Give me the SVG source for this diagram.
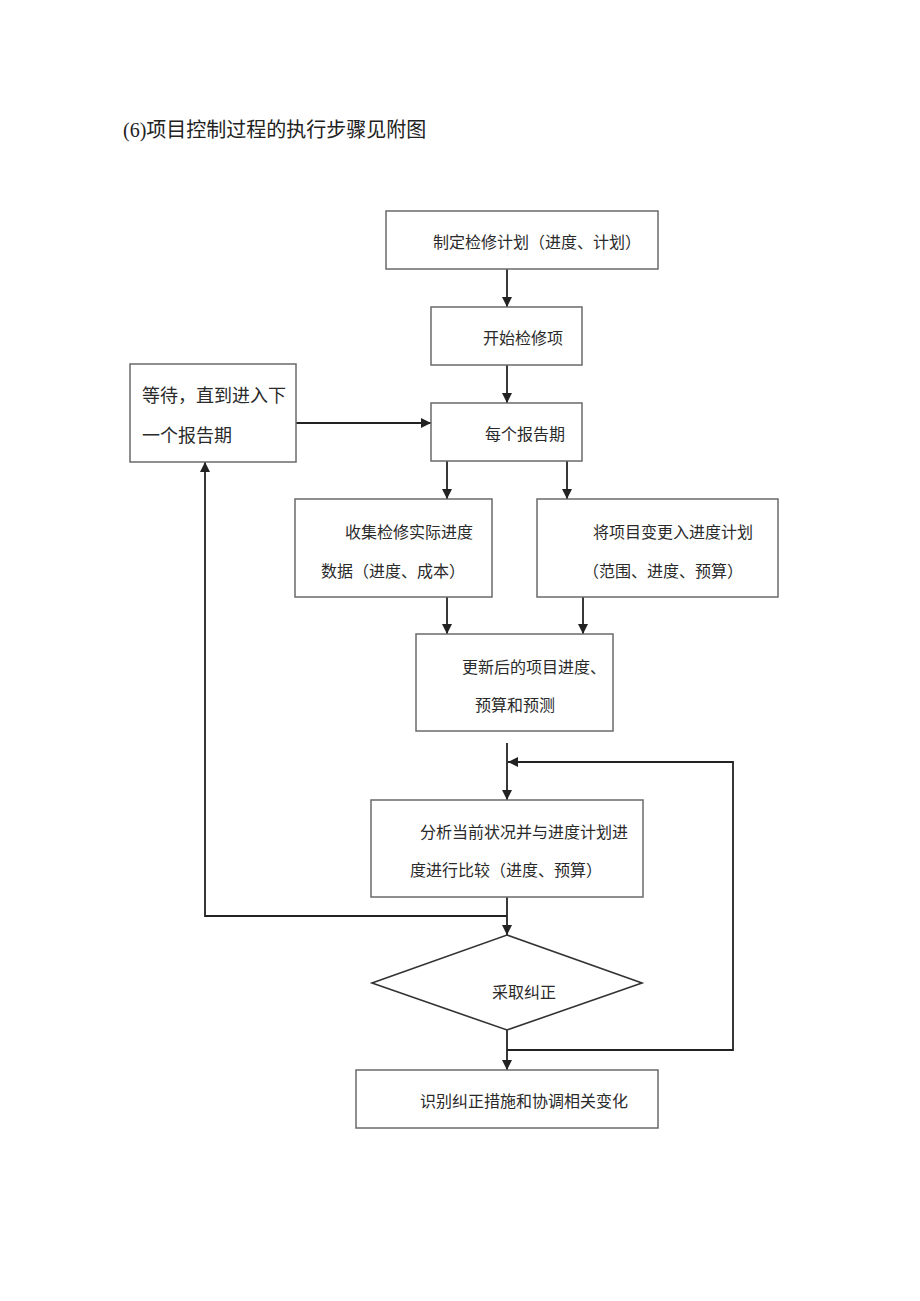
<svg xmlns="http://www.w3.org/2000/svg" width="920" height="1301" viewBox="0 0 920 1301">
<style>
.box{fill:#fff;stroke:#6a6a6a;stroke-width:1.5}
.t{font-family:"Noto Sans CJK SC","Liberation Serif",serif;font-size:16px;fill:#2a2a2a}
.c{fill:none;stroke:#222;stroke-width:1.8}
</style>
<defs>
<marker id="ah" markerUnits="userSpaceOnUse" markerWidth="10" markerHeight="10" viewBox="0 0 10 10" refX="10" refY="5" orient="auto">
<path d="M0,0 L10,5 L0,10 z" fill="#222"/>
</marker>
</defs>
<rect width="920" height="1301" fill="#fff"/>
<text x="123" y="137" style="font-family:'Liberation Serif','Noto Sans CJK SC',serif;font-size:20px;fill:#222">(6)项目控制过程的执行步骤见附图</text>

<g id="connectors">
<line class="c" x1="507" y1="269" x2="507" y2="307" marker-end="url(#ah)"/>
<line class="c" x1="507" y1="365" x2="507" y2="403" marker-end="url(#ah)"/>
<line class="c" x1="296" y1="423" x2="431" y2="423" marker-end="url(#ah)"/>
<line class="c" x1="447" y1="461" x2="447" y2="499" marker-end="url(#ah)"/>
<line class="c" x1="567" y1="461" x2="567" y2="499" marker-end="url(#ah)"/>
<line class="c" x1="447" y1="597" x2="447" y2="634" marker-end="url(#ah)"/>
<line class="c" x1="583" y1="597" x2="583" y2="634" marker-end="url(#ah)"/>
<line class="c" x1="507" y1="743" x2="507" y2="800" marker-end="url(#ah)"/>
<polyline class="c" points="507,1050 733,1050 733,762 508,762" marker-end="url(#ah)"/>
<line class="c" x1="507" y1="897" x2="507" y2="935" marker-end="url(#ah)"/>
<polyline class="c" points="507,916 205,916 205,462" marker-end="url(#ah)"/>
<line class="c" x1="507" y1="1030" x2="507" y2="1070" marker-end="url(#ah)"/>
</g>

<g id="n1"><rect class="box" x="386" y="211" width="272" height="58"/>
<text class="t" x="433" y="248">制定检修计划（进度、计划）</text></g>
<g id="n2"><rect class="box" x="431" y="307" width="151" height="58"/>
<text class="t" x="483" y="344">开始检修项</text></g>
<g id="n3"><rect class="box" x="431" y="403" width="151" height="58"/>
<text class="t" x="485" y="440">每个报告期</text></g>
<g id="wait"><rect class="box" x="130" y="364" width="166" height="98"/>
<text class="t" x="142" y="402" style="font-size:18px">等待，直到进入下</text>
<text class="t" x="142" y="442" style="font-size:18px">一个报告期</text></g>
<g id="n4"><rect class="box" x="295" y="499" width="197" height="98"/>
<text class="t" x="345" y="538">收集检修实际进度</text>
<text class="t" x="321" y="577">数据（进度、成本）</text></g>
<g id="n5"><rect class="box" x="537" y="499" width="241" height="98"/>
<text class="t" x="593" y="538">将项目变更入进度计划</text>
<text class="t" x="583" y="577">（范围、进度、预算）</text></g>
<g id="n6"><rect class="box" x="416" y="634" width="197" height="97"/>
<text class="t" x="462" y="673">更新后的项目进度、</text>
<text class="t" x="475" y="711">预算和预测</text></g>
<g id="n7"><rect class="box" x="371" y="800" width="272" height="97"/>
<text class="t" x="420" y="838">分析当前状况并与进度计划进</text>
<text class="t" x="410" y="876">度进行比较（进度、预算）</text></g>
<g id="d1"><polygon points="507,935 642,983 507,1030 372,983" fill="#fff" stroke="#333" stroke-width="1.6"/>
<text class="t" x="492" y="998">采取纠正</text></g>
<g id="n8"><rect class="box" x="356" y="1070" width="302" height="58"/>
<text class="t" x="420" y="1107">识别纠正措施和协调相关变化</text></g>
</svg>
